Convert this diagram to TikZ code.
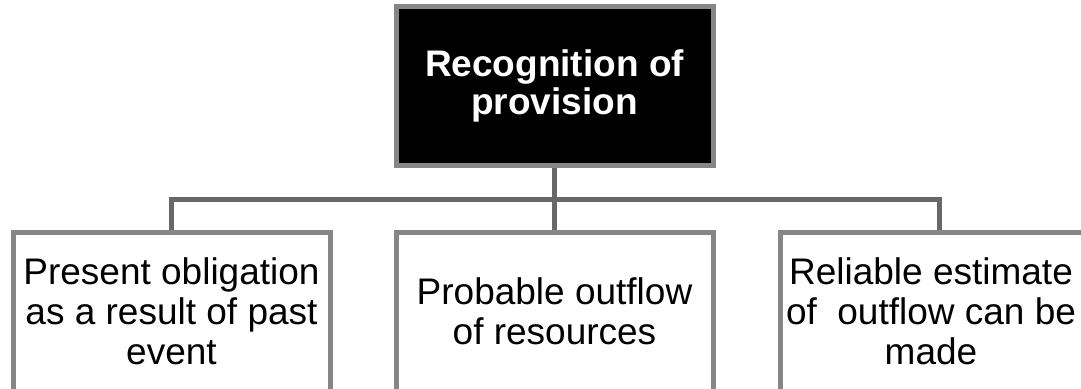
\documentclass[tikz,border=0pt]{standalone}
\usepackage{fontspec}
\setmainfont{Liberation Sans}
\usepackage{xcolor}
\definecolor{boxgray}{RGB}{134,134,134}
\definecolor{linkgray}{RGB}{104,104,104}

\begin{document}
\begin{tikzpicture}[x=1pt, y=-1pt]
 \useasboundingbox (0,0) rectangle (1081,388);
 \clip (0,0) rectangle (1081,388);
 \begin{scope}[every node/.append style={rectangle, draw=boxgray, line width=5pt, minimum width=317pt, minimum height=158.5pt, align=center}]
    \node[fill=black, text=white, font=\fontsize{37}{38}\selectfont\bfseries] (rec) at (554.5, 85.75) {Recognition of\\provision};

    \node[fill=white, font=\fontsize{37}{40}\selectfont] (obl) at (171.5, 311.75) {Present obligation\\as a result of past\\event};
    \node[fill=white, font=\fontsize{37}{40}\selectfont] (outf) at (554.5, 311.75) {Probable outflow\\of resources};
    % text sits a little left of the box centre
    \node[fill=white, font=\fontsize{37}{40}\selectfont] (est) at (939, 311.75) {\hspace*{-16pt}Reliable estimate\\\hspace*{-16pt}of\ \ outflow can be\\\hspace*{-16pt}made};

    \coordinate (bar) at (554.5, 199);
    \begin{scope}[every path/.style={draw=linkgray, line width=5pt}]
       	\draw (rec.south) -- (outf.north);
       	\draw (obl.north) |- (bar) -| (est.north);
    \end{scope}
 \end{scope}
\end{tikzpicture}
\end{document}
